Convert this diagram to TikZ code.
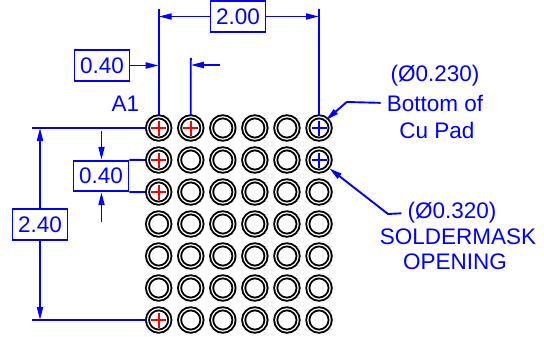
\documentclass[tikz,border=0pt]{standalone}
\usepackage{fontspec}
\setmainfont{Liberation Sans}
\usetikzlibrary{arrows.meta,calc}
\definecolor{dimblue}{RGB}{0,0,255}
\definecolor{crossred}{RGB}{255,0,0}

\begin{document}
\begin{tikzpicture}[x=1pt,y=-1pt,
  dimline/.style={draw=dimblue,line width=1.9pt},
  dimarrow/.style={dimline,-{Triangle[length=13pt,width=6pt]}},
  dimbox/.style={dimline,text=dimblue,minimum width=55pt,minimum height=30.5pt,inner sep=0pt,font=\fontsize{22.5}{27}\selectfont},
  dimtext/.style={text=dimblue,inner sep=0pt,font=\fontsize{22.5}{27}\selectfont},
  pad/.style={circle,draw=black,double=white,line width=1.9pt,double distance=1.2pt,minimum size=22.4pt,inner sep=0pt,outer sep=2pt},
  padcross/.style={line width=1.6pt}]
  \useasboundingbox (0,0) rectangle (544,337);
  % ball grid
  \foreach \r in {1,...,7} {
    \foreach \c in {1,...,6} {
      \node[pad] (p\r\c) at ({158.7+32.06*(\c-1)},{128+32*(\r-1)}) {};
    }
  }
  \foreach \n in {p11,p12,p21,p31,p71} {
    \draw[padcross,crossred] ($(\n)+(-7.5,0)$) -- ($(\n)+(7.5,0)$);
    \draw[padcross,crossred] ($(\n)+(0,-7.5)$) -- ($(\n)+(0,7.5)$);
  }
  \foreach \n in {p16,p26} {
    \draw[padcross,dimblue] ($(\n)+(-7.5,0)$) -- ($(\n)+(7.5,0)$);
    \draw[padcross,dimblue] ($(\n)+(0,-7.5)$) -- ($(\n)+(0,7.5)$);
  }
  % labels and boxes
  \node[dimbox] (width) at (238,16.5) {2.00};
  \node[dimbox] (pitchx) at (102,65.5) {0.40};
  \node[dimbox] (pitchy) at (101,176) {0.40};
  \node[dimbox] (height) at (40,224.5) {2.40};
  \node[dimtext] (aone) at (125.5,104) {A1};
  \node[dimtext] (padsize) at (435,76) {(Ø0.230)};
  \node[dimtext] (padname) at (435,103) {Bottom of};
  \node[dimtext] (padnametwo) at (437,130) {Cu Pad};
  \node[dimtext] (masksize) at (452,213) {(Ø0.320)};
  \node[dimtext] (maskname) at (458,237) {SOLDERMASK};
  \node[dimtext] (masknametwo) at (455,262) {OPENING};
  % free ends
  \coordinate (widtha) at (158.7,9);
  \coordinate (widthb) at (319,9);
  \coordinate (pitcha) at (190.8,58);
  \coordinate (pitchend) at (220,65);
  \coordinate (hta) at (32,128);
  \coordinate (htb) at (32,320);
  \coordinate (pya) at (101.5,131);
  \coordinate (pyb) at (101.5,222);
  \coordinate (padtip) at (326,120);
  \coordinate (padbend) at (346.7,102);
  \coordinate (masktip) at (329.3,168.3);
  \coordinate (maskbend) at (388,214);
  % extension lines
  \draw[dimline] (widtha) -- (p11);
  \draw[dimline] (widthb) -- (p16);
  \draw[dimline] (pitcha) -- (p12.north);
  \draw[dimline] (hta) -- (p11.west);
  \draw[dimline] (htb) -- (p71.west);
  \draw[dimline] (pitchy.north east) -- (p21.west);
  \draw[dimline] (pitchy.south east) -- (p31.west);
  % dimension arrows
  \draw[dimarrow] (width.west) -- (width.west -| widtha);
  \draw[dimarrow] (width.east) -- (width.east -| widthb);
  \draw[dimarrow] (pitchx.east) -- (pitchx.east -| widtha);
  \draw[dimarrow] (pitchend) -- (pitchend -| pitcha);
  \draw[dimarrow] (pya) -- (pitchy.north -| pya);
  \draw[dimarrow] (pyb) -- (pitchy.south -| pyb);
  \draw[dimarrow] (height.north) -- (height.north |- hta);
  \draw[dimarrow] (height.south) -- (height.south |- htb);
  % leaders
  \draw[dimarrow,shorten <=6pt] (padname.west) -- (padbend) -- (padtip);
  \draw[dimarrow,shorten <=6pt] (masksize.west) -- (maskbend) -- (masktip);
\end{tikzpicture}
\end{document}
